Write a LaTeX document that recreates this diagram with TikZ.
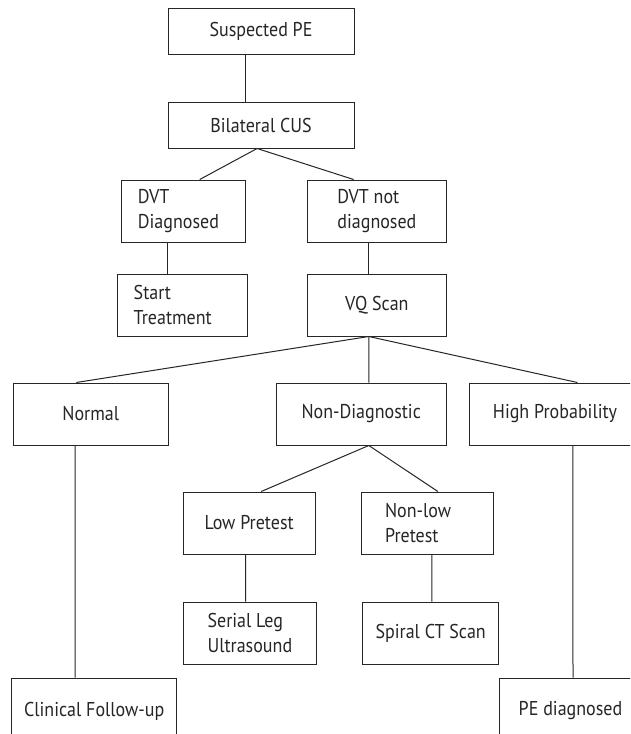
\documentclass[tikz,border=0pt]{standalone}
\usepackage{fontspec}
\setmainfont[FakeStretch=0.9]{PT Sans}
\usetikzlibrary{positioning}

\begin{document}
\begin{tikzpicture}[
  x=1pt, y=-1pt,
  font=\fontsize{20}{25}\selectfont,
  box/.style={draw=black!85, line width=1pt, text=black!85, align=left, inner sep=4pt, minimum width=#1, minimum height=62pt},
  box/.default=130pt,
  link/.style={draw=black!85, line width=1pt}
]
\path[use as bounding box, fill=white] (0,0) rectangle (630,734);
\clip (0,0) rectangle (630,734);

\node[box=186pt, minimum height=46pt] (susp) at (261,31) {Suspected PE};
\node[box=186pt, minimum height=46pt, below=47pt of susp] (cus) {Bilateral CUS};
\node[box=124pt, inner xsep=16.5pt, text width=91pt, below=31pt of cus, xshift=-77.6pt] (dvty) {DVT\\Diagnosed};
\node[box=139pt, below=31pt of cus, xshift=115.9pt] (dvtn) {DVT not\\diagnosed};
\node[box=129.4pt, inner xsep=16pt, text width=97.4pt, below=31pt of dvty, xshift=-1pt] (start) {Start\\Treatment};
\node[box=139pt, below=31pt of dvtn] (vq) {VQ Scan};
% VQ scan results
\node[box=155pt, below=46pt of vq, xshift=-286.1pt] (normal) {Normal};
\node[box=170.4pt, below=46pt of vq, xshift=-15.7pt] (nondiag) {Non-Diagnostic};
\node[box=172pt, below=46pt of vq, xshift=178.1pt] (high) {High Probability};
\node[box=132pt, below=46pt of nondiag, xshift=-112.1pt] (low) {Low Pretest};
\node[box=132pt, inner xsep=23.8pt, text width=84.4pt, below=46pt of nondiag, xshift=66.1pt] (nonlow) {Non-low\\Pretest};
\node[box=133.4pt, below=47pt of low, xshift=0.8pt] (serial) {Serial Leg\\Ultrasound};
\node[box=136pt, below=47pt of nonlow, xshift=3.4pt] (spiral) {Spiral CT Scan};
\node[box=165pt, minimum height=66pt, below=232pt of normal, xshift=3.4pt] (clin) {Clinical Follow-up};
\node[box=143pt, minimum height=66pt, below=232pt of high, xshift=15.5pt] (pe) {PE diagnosed};

\draw[link] ([xshift=-15.9pt]susp.south) -- ([xshift=-15.9pt]cus.north);
\draw[link] ([xshift=-3.9pt]cus.south) -- ([xshift=16.3pt]dvty.north);
\draw[link] ([xshift=-3.9pt]cus.south) -- ([xshift=-23.3pt]dvtn.north);
\draw[link] ([xshift=-15.5pt]dvty.south) -- ([xshift=-14.5pt]start.north);
\draw[link] ([xshift=-8.1pt]dvtn.south) -- ([xshift=-8.1pt]vq.north);
\draw[link] ([xshift=-8.1pt]vq.south) -- ([xshift=-14.5pt]normal.north);
\draw[link] ([xshift=-8.1pt]vq.south) -- ([xshift=7.6pt]nondiag.north);
\draw[link] ([xshift=-8.1pt]vq.south) -- ([xshift=22.4pt]high.north);
\draw[link] ([xshift=7.6pt]nondiag.south) -- ([xshift=12.1pt]low.north);
\draw[link] ([xshift=7.6pt]nondiag.south) -- ([xshift=10.6pt]nonlow.north);
\draw[link] ([xshift=-3.6pt]low.south) -- ([xshift=-4.4pt]serial.north);
\draw[link] ([xshift=4.6pt]nonlow.south) -- ([xshift=1.2pt]spiral.north);
\draw[link] ([xshift=-15.7pt]normal.south) -- ([xshift=-19.2pt]clin.north);
\draw[link] ([xshift=17.9pt]high.south) -- ([xshift=2.5pt]pe.north);
\end{tikzpicture}
\end{document}
